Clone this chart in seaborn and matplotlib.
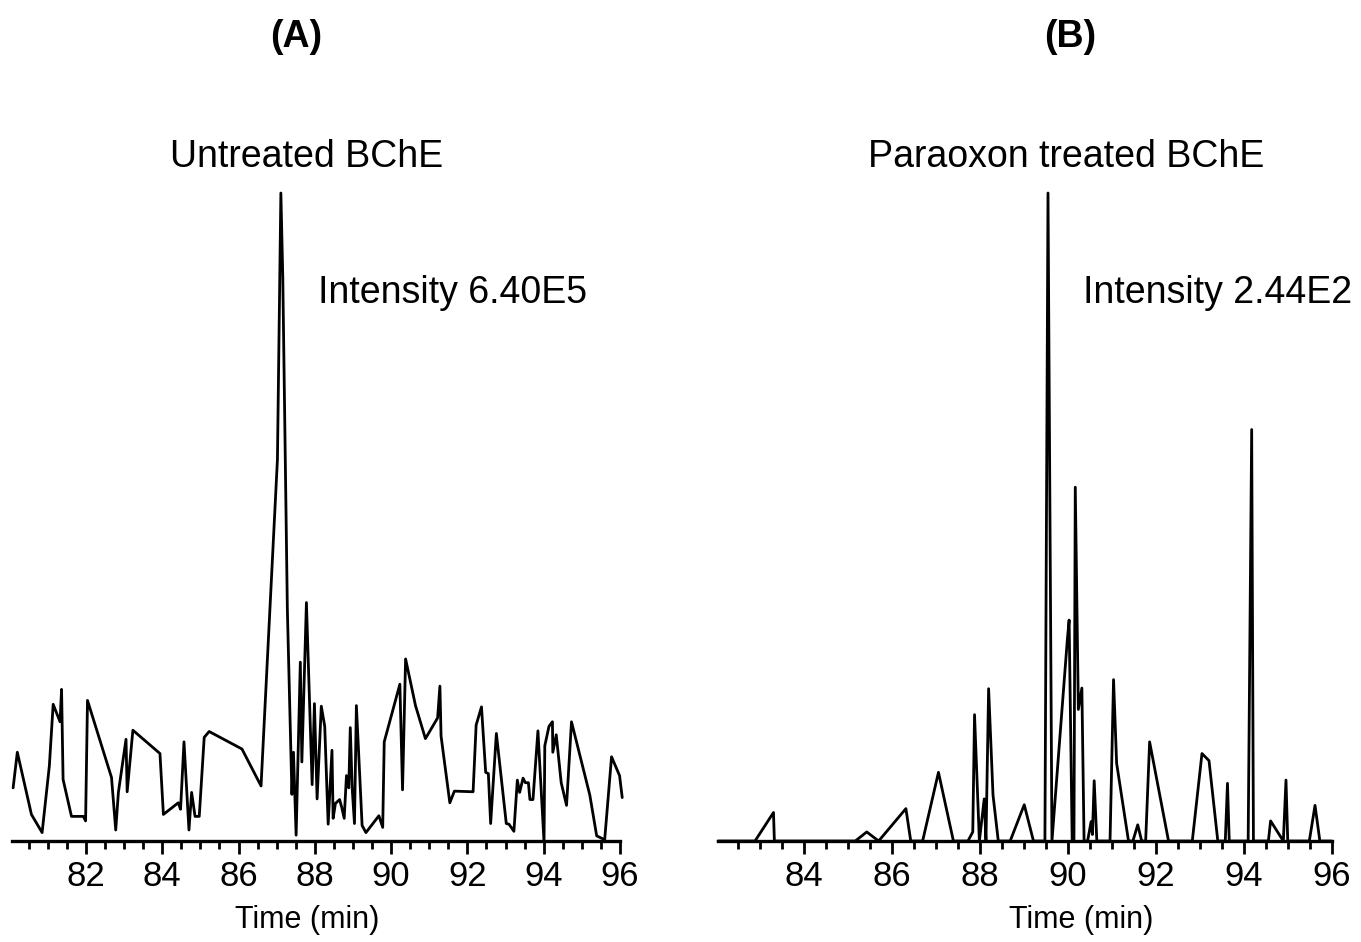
import matplotlib
matplotlib.use("Agg")
import matplotlib.pyplot as plt
from matplotlib.ticker import MultipleLocator
import seaborn as sns

# relative intensity (% of the largest peak)
a_time = [80.09, 80.20, 80.57, 80.85, 81.04, 81.14, 81.32, 81.36, 81.40, 81.62,
          81.93, 81.99, 82.04, 82.67, 82.78, 82.85, 83.05, 83.08, 83.23, 83.94,
          84.03, 84.42, 84.48, 84.57, 84.70, 84.77, 84.86, 84.97, 85.10, 85.23,
          86.09, 86.59, 87.02, 87.11, 87.16, 87.28, 87.40, 87.44, 87.51, 87.62,
          87.66, 87.78, 87.93, 87.99, 88.06, 88.17, 88.26, 88.35, 88.45, 88.48,
          88.54, 88.65, 88.71, 88.77, 88.83, 88.89, 88.93, 88.98, 89.04, 89.09,
          89.24, 89.34, 89.68, 89.78, 89.82, 90.23, 90.30, 90.38, 90.64, 90.90,
          91.22, 91.28, 91.31, 91.54, 91.66, 92.15, 92.23, 92.37, 92.48, 92.55,
          92.61, 92.76, 93.02, 93.09, 93.22, 93.31, 93.37, 93.46, 93.52, 93.60,
          93.64, 93.72, 93.85, 94.01, 94.03, 94.14, 94.23, 94.24, 94.33, 94.46,
          94.60, 94.73, 95.21, 95.39, 95.60, 95.78, 95.99, 96.06]
a_int = [8.2, 13.7, 4.1, 1.3, 11.6, 21.1, 18.4, 23.4, 9.5, 3.8,
         3.8, 3.1, 21.7, 9.8, 1.7, 7.5, 15.7, 7.6, 17.1, 13.5,
         4.1, 5.9, 4.9, 15.3, 1.7, 7.5, 3.8, 3.8, 16.0, 16.9,
         14.2, 8.5, 58.9, 100, 87.1, 35.8, 7.2, 13.7, 0.9, 27.6,
         12.2, 36.8, 8.7, 21.2, 6.5, 20.8, 17.7, 2.6, 14.0, 3.5,
         5.8, 6.4, 5.1, 3.5, 10.1, 8.2, 17.5, 8.1, 2.7, 20.9,
         2.4, 1.3, 3.9, 2.1, 15.3, 24.2, 7.9, 28.1, 20.9, 15.8,
         19.0, 23.9, 16.2, 5.9, 7.7, 7.6, 17.9, 20.7, 10.6, 10.4,
         2.7, 16.6, 2.7, 2.6, 1.5, 9.4, 7.5, 9.7, 9.0, 9.0,
         6.4, 6.4, 17.0, -0.2, 14.7, 17.7, 18.4, 13.7, 16.4, 9.0,
         5.5, 18.4, 7.1, 0.8, 0.2, 13.0, 10.1, 6.7]

b_time = [82.05, 82.89, 83.31, 83.33, 85.17, 85.43, 85.70, 86.32, 86.43, 86.70,
          87.06, 87.40, 87.73, 87.84, 87.88, 87.99, 88.10, 88.14, 88.20, 88.30,
          88.42, 88.69, 89.01, 89.22, 89.48, 89.55, 89.64, 89.99, 90.03, 90.10,
          90.14, 90.17, 90.24, 90.32, 90.37, 90.45, 90.53, 90.56, 90.60, 90.66,
          90.96, 91.04, 91.11, 91.38, 91.48, 91.59, 91.68, 91.77, 91.86, 92.29,
          92.83, 93.05, 93.21, 93.41, 93.58, 93.63, 93.67, 94.10, 94.18, 94.22,
          94.56, 94.61, 94.90, 94.96, 95.00, 95.49, 95.62, 95.73, 96.00]
b_int = [0, 0, 4.4, 0, 0, 1.4, 0, 5.0, 0, 0,
         10.6, 0, 0, 1.4, 19.5, 0, 6.5, 0, 23.5, 7.1,
         0, 0, 5.6, 0, 0, 100, 0, 31.1, 34.1, 0,
         0, 54.6, 20.3, 23.6, 0, 0, 3.0, 1.0, 9.3, 0,
         0, 24.9, 12.0, 0, 0, 2.5, 0, 0, 15.3, 0,
         0, 13.5, 12.4, 0, 0, 8.9, 0, 0, 63.5, 0,
         0, 3.1, 0, 9.4, 0, 0, 5.5, 0, 0]

panel_tags = ["(A)", "(B)"]
samples = ["Untreated BChE", "Paraoxon treated BChE"]
intensities = ["Intensity 6.40E5", "Intensity 2.44E2"]

sns.set_style("ticks")
plt.rcParams['font.family'] = ['Liberation Sans', 'DejaVu Sans']
plt.rcParams.update({"text.color": "black", "axes.labelcolor": "black",
                     "xtick.color": "black", "axes.edgecolor": "black"})

fig = plt.figure(figsize=(13.61, 9.42), dpi=100)
axA = fig.add_axes([0.0088, 0.1072, 0.4467, 0.6879])
axB = fig.add_axes([0.5276, 0.1072, 0.4509, 0.6879])

panels = [
    (axA, a_time, a_int, (80.06, 96.0), 0.485),
    (axB, b_time, b_int, (82.05, 96.0), 0.592),
]
for ax, t, y, xl, labx in panels:
    sns.lineplot(x=t, y=y, ax=ax, color="black", lw=2.0, errorbar=None, clip_on=False)
    ax.set_xlim(*xl)
    ax.set_ylim(0, 100)
    for s in ["left", "top", "right"]:
        ax.spines[s].set_visible(False)
    ax.spines["bottom"].set_linewidth(2.4)
    ax.set_yticks([])
    ax.xaxis.set_major_locator(MultipleLocator(2))
    ax.xaxis.set_minor_locator(MultipleLocator(0.5))
    ax.tick_params(axis="x", which="major", length=9, width=2.0, labelsize=25, pad=5)
    ax.tick_params(axis="x", which="minor", length=5.5, width=2.0)
    ax.set_xlabel("Time (min)", fontsize=22)
    ax.xaxis.set_label_coords(labx, -0.099)
    ax.set_ylabel("")

fig.text(296 / 1361, 1 - 37 / 942, panel_tags[0], fontsize=27, fontweight="bold", ha="center", va="center")
fig.text(1070 / 1361, 1 - 37 / 942, panel_tags[1], fontsize=27, fontweight="bold", ha="center", va="center")
fig.text(307 / 1361, 1 - 157 / 942, samples[0], fontsize=27, ha="center", va="center")
fig.text(1066 / 1361, 1 - 157 / 942, samples[1], fontsize=27, ha="center", va="center")
fig.text(318 / 1361, 1 - 293 / 942, intensities[0], fontsize=27, ha="left", va="center")
fig.text(1083 / 1361, 1 - 293 / 942, intensities[1], fontsize=27, ha="left", va="center")

fig.savefig("out.png", dpi=100)
